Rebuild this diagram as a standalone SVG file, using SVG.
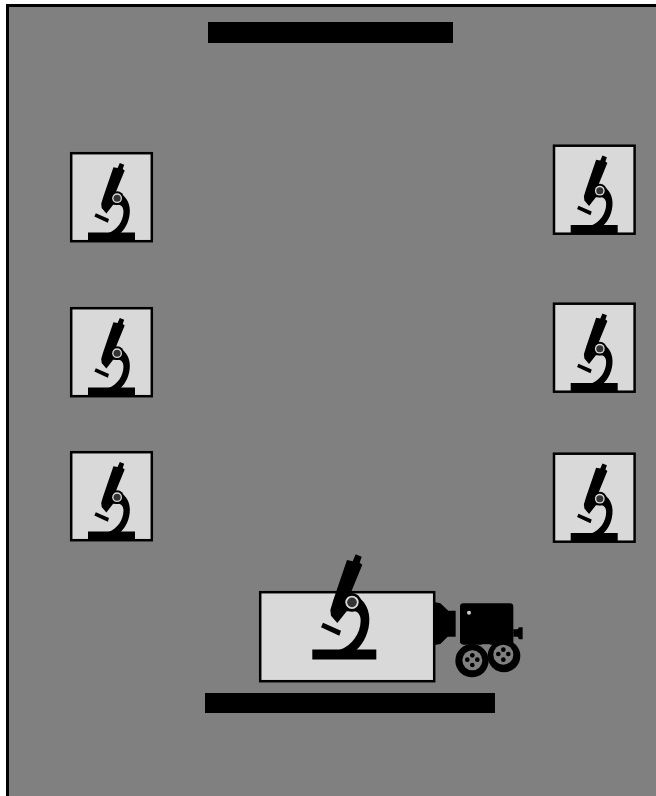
<svg xmlns="http://www.w3.org/2000/svg" width="656" height="796" viewBox="0 0 656 796">
<style>
.frame{fill:#808080;stroke:#000;stroke-width:3}
.bar{fill:#000}
.box{fill:#d9d9d9;stroke:#000;stroke-width:2.5}
.ink{fill:#000}
.hole{fill:#808080}
</style>
<defs>
<g id="scope">
<path class="ink" d="M152 13L170 20L164 38L172 44L136 132C172 140 192 170 193 205C194 245 177 280 154 300L103 300C143 285 166 250 167 212C167 198 162 188 150 184L125 184L97 219L78 197L76 180L85 150L126 30L143 34Z"/>
<circle class="ink" cx="141" cy="157" r="28"/>
<circle cx="141" cy="157" r="20" fill="#d9d9d9"/>
<circle cx="141" cy="157" r="14.5" fill="#333"/>
<path class="ink" d="M54 218L108 242L103 257L48 232Z"/>
</g>
</defs>
<rect class="frame" x="7.5" y="5.5" width="720" height="860"/>
<rect class="bar" x="208" y="22" width="245" height="21"/>
<g id="node-left-1"><rect class="box" x="71.2" y="153.2" width="80.6" height="88"/><use href="#scope" transform="translate(82.6,159.8) scale(.2447)"/><rect class="ink" x="88" y="232.5" width="47" height="9"/></g>
<g id="node-left-2"><rect class="box" x="71.2" y="308.2" width="80.6" height="88"/><use href="#scope" transform="translate(82.6,314.8) scale(.2447)"/><rect class="ink" x="88" y="387.5" width="47" height="9"/></g>
<g id="node-left-3"><rect class="box" x="71.2" y="452.2" width="80.6" height="88"/><use href="#scope" transform="translate(82.6,458.8) scale(.2447)"/><rect class="ink" x="88" y="531.5" width="47" height="9"/></g>
<g id="node-right-1"><rect class="box" x="554" y="145.7" width="80.6" height="88"/><use href="#scope" transform="translate(565.3,152.3) scale(.2447)"/><rect class="ink" x="570.7" y="225" width="47" height="9"/></g>
<g id="node-right-2"><rect class="box" x="554" y="303.7" width="80.6" height="88"/><use href="#scope" transform="translate(565.3,310.3) scale(.2447)"/><rect class="ink" x="570.7" y="383" width="47" height="9"/></g>
<g id="node-right-3"><rect class="box" x="554" y="453.7" width="80.6" height="88"/><use href="#scope" transform="translate(565.3,460.3) scale(.2447)"/><rect class="ink" x="570.7" y="533" width="47" height="9"/></g>
<g id="node-main"><rect class="box" x="260.2" y="592.2" width="174" height="89"/><use href="#scope" transform="translate(305,550) scale(.3333)"/><rect class="ink" x="312.3" y="649.5" width="64" height="10"/></g>
<g id="node-camera" transform="translate(425,590) scale(.3333)">
<path class="ink" d="M28 36L46 40L70 62L92 62L92 140L68 140L46 162L28 165Z"/>
<rect class="ink" x="105" y="40" width="160" height="124" rx="10"/>
<path class="ink" d="M265 118L278 118L282 112L293 112L293 148L282 148L278 140L265 140Z"/>
<circle class="ink" cx="237" cy="198" r="49"/>
<circle class="ink" cx="141" cy="212" r="50"/>
<path class="hole" d="M170 163L196 163L183 178Z"/>
<circle cx="132" cy="68" r="6" fill="#ccc"/>
<circle class="hole" cx="142" cy="211" r="30"/>
<circle class="hole" cx="235" cy="194" r="30"/>
<g class="ink"><circle cx="142" cy="196" r="7"/><circle cx="127" cy="209" r="7"/><circle cx="157" cy="209" r="7"/><circle cx="142" cy="225" r="7"/><circle cx="235" cy="179" r="7"/><circle cx="220" cy="192" r="7"/><circle cx="250" cy="192" r="7"/><circle cx="235" cy="209" r="7"/></g>
</g>
<rect class="bar" x="205" y="693" width="290" height="20"/>
<g id="connectors"/>
</svg>
